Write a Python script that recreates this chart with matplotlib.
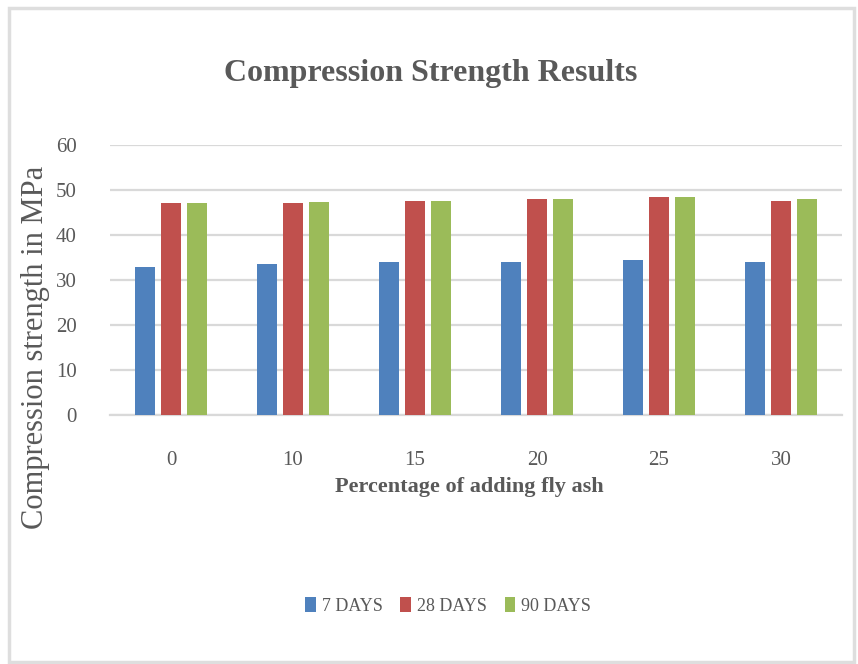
import matplotlib
matplotlib.use("Agg")
import matplotlib.pyplot as plt
import numpy as np
from matplotlib.patches import Rectangle

# Data
fly_ash_pct = ["0", "10", "15", "20", "25", "30"]
days_7 = [32.9, 33.5, 33.9, 33.9, 34.4, 33.9]
days_28 = [47.1, 47.1, 47.6, 48.0, 48.5, 47.6]
days_90 = [47.1, 47.4, 47.6, 48.0, 48.5, 48.0]
series_names = ["7 DAYS", "28 DAYS", "90 DAYS"]
y_ticks = [0, 10, 20, 30, 40, 50, 60]

colors = ["#4F81BD", "#C0504D", "#9BBB59"]
text_gray = "#595959"
serif = ["Liberation Serif", "DejaVu Serif"]

W, H = 858, 664
fig = plt.figure(figsize=(W / 100, H / 100), dpi=100)
fig.patch.set_facecolor("white")

# light outer frame
fig.patches.append(Rectangle((9 / W, 2 / H), 845 / W, 654 / H, transform=fig.transFigure,
                             fill=False, edgecolor="#dedede", linewidth=2.5))

ax = fig.add_axes([110 / W, (H - 415) / H, 732 / W, 270 / H])
x = np.arange(len(fly_ash_pct))
width = 0.165
step = 0.213
for i, (vals, name) in enumerate(zip([days_7, days_28, days_90], series_names)):
    ax.bar(x + (i - 1) * step, vals, width=width, color=colors[i], label=name, zorder=3)

ax.set_xlim(-0.5, len(fly_ash_pct) - 0.5)
ax.set_ylim(0, 60)
ax.set_yticks(y_ticks)
ax.set_yticklabels([str(t) for t in y_ticks], fontfamily=serif, fontsize=15, color=text_gray)
ax.set_xticks(x)
ax.set_xticklabels(fly_ash_pct, fontfamily=serif, fontsize=15, color=text_gray)
ax.tick_params(axis="both", length=0)
ax.tick_params(axis="y", pad=24)
ax.tick_params(axis="x", pad=26)
ax.grid(axis="y", color="#d9d9d9", linewidth=1.6, zorder=0)
for s in ["top", "right", "left"]:
    ax.spines[s].set_visible(False)
ax.spines["bottom"].set_color("#d9d9d9")
ax.spines["bottom"].set_linewidth(1.6)

fig.text(431 / W, 1 - 74 / H, "Compression Strength Results", ha="center", va="center",
         fontfamily=serif, fontsize=23, fontweight="bold", color=text_gray)
fig.text(469 / W, 1 - 487 / H, "Percentage of adding fly ash", ha="center", va="center",
         fontfamily=serif, fontsize=16, fontweight="bold", color=text_gray)
fig.text(36 / W, 1 - 347 / H, "Compression strength in MPa", ha="center", va="center",
         rotation=90, fontfamily=serif, fontsize=22, color=text_gray)

leg = fig.legend(loc="center", bbox_to_anchor=(448 / W, 1 - 606 / H), ncol=3, frameon=False,
                 prop={"family": serif, "size": 13}, handlelength=0.6, handleheight=0.9,
                 columnspacing=1.0, handletextpad=0.3)
for t in leg.get_texts():
    t.set_color(text_gray)

fig.savefig("out.png", dpi=100, facecolor="white")
